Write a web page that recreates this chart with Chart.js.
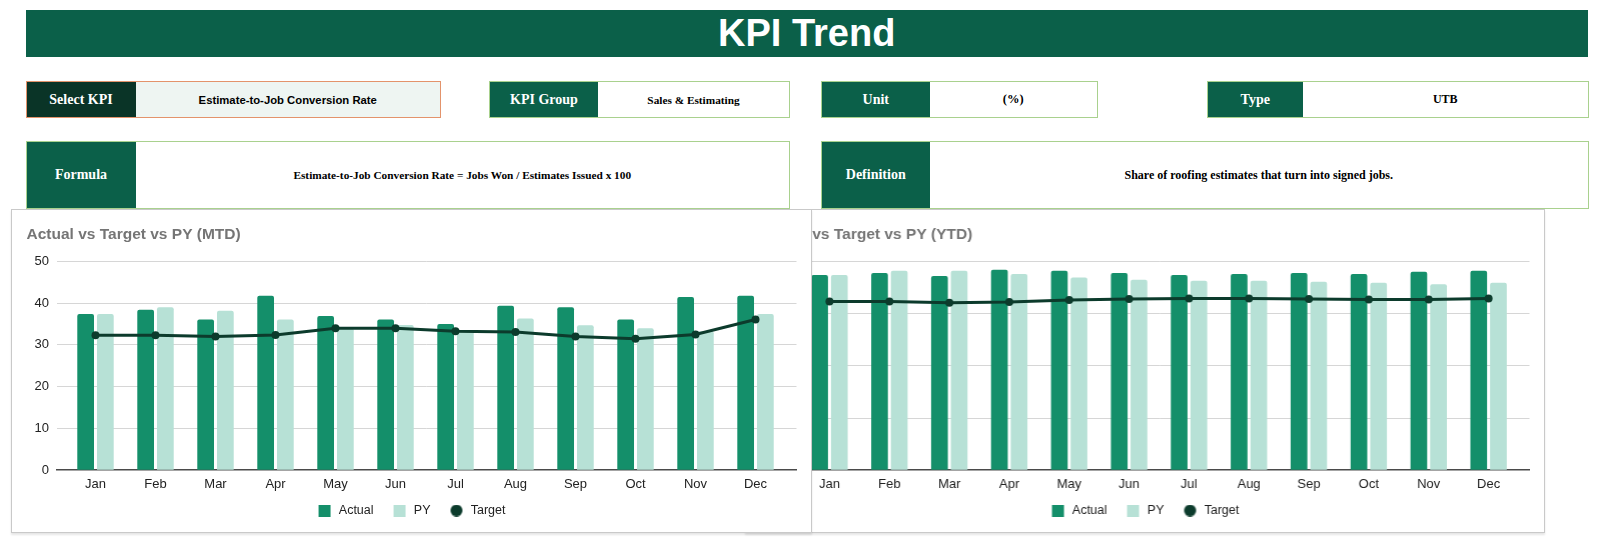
<!DOCTYPE html>
<html>
<head>
<meta charset="utf-8">
<script src="https://cdn.jsdelivr.net/npm/chart.js@4.4.1/dist/chart.umd.min.js"></script>
<style>
html,body{margin:0;padding:0;background:#fff;}
body{width:1600px;height:545px;position:relative;overflow:hidden;font-family:"Liberation Serif","Times New Roman",serif;}
.hdr{position:absolute;left:25.5px;top:10px;width:1562.5px;height:47px;background:#0b6049;color:#fff;font:bold 38px "Liberation Sans",Arial,sans-serif;display:flex;align-items:center;justify-content:center;}
.box{position:absolute;box-sizing:border-box;border:1.5px solid #a9d18e;display:flex;background:#fff;}
.lab{background:#0b6049;color:#fff;font-weight:bold;font-size:14px;display:flex;align-items:center;justify-content:center;flex:none;}
.val{flex:1;display:flex;align-items:center;justify-content:center;font-weight:bold;font-size:12px;color:#000;text-align:center;}
.card{position:absolute;top:209px;height:324px;box-sizing:border-box;border:1.5px solid #c9c9c9;background:#fff;box-shadow:0 2px 2px rgba(0,0,0,0.10);}
.card canvas{position:absolute;left:0;top:0;}
</style>
</head>
<body>
<div class="hdr">KPI Trend</div>

<div class="box" style="left:25.5px;top:81px;width:415.5px;height:37px;border-color:#e3936b;">
  <div class="lab" style="width:109px;background:#0a3427;">Select KPI</div>
  <div class="val" style="background:#eef5f2;font-family:'Liberation Sans',Arial,sans-serif;font-size:11.3px;">Estimate-to-Job Conversion Rate</div>
</div>
<div class="box" style="left:489px;top:81px;width:301px;height:37px;">
  <div class="lab" style="width:108px;">KPI Group</div>
  <div class="val" style="font-size:11.3px;">Sales &amp; Estimating</div>
</div>
<div class="box" style="left:821px;top:81px;width:277px;height:37px;">
  <div class="lab" style="width:107.5px;">Unit</div>
  <div class="val" style="font-size:12.5px;">(%)</div>
</div>
<div class="box" style="left:1207px;top:81px;width:382px;height:37px;">
  <div class="lab" style="width:94.5px;">Type</div>
  <div class="val" style="font-size:12px;">UTB</div>
</div>
<div class="box" style="left:25.5px;top:141px;width:764.5px;height:68px;">
  <div class="lab" style="width:109px;">Formula</div>
  <div class="val" style="font-size:11.3px;">Estimate-to-Job Conversion Rate = Jobs Won / Estimates Issued x 100</div>
</div>
<div class="box" style="left:821px;top:141px;width:768px;height:68px;">
  <div class="lab" style="width:107.5px;">Definition</div>
  <div class="val">Share of roofing estimates that turn into signed jobs.</div>
</div>

<div class="card" style="left:745px;width:799.5px;z-index:1;"><canvas id="ytd"></canvas></div>
<div class="card" style="left:11px;width:801px;z-index:2;"><canvas id="mtd"></canvas></div>

<script>
// ---- data ----
const months = ['Jan','Feb','Mar','Apr','May','Jun','Jul','Aug','Sep','Oct','Nov','Dec'];
const seriesNames = ['Actual','PY','Target'];

const mtdActual = [37.4, 38.4, 36.1, 41.8, 36.9, 36.1, 35.0, 39.4, 39.0, 36.1, 41.5, 41.8];
const mtdPY     = [37.4, 39.0, 38.2, 36.1, 34.0, 34.8, 33.5, 36.3, 34.7, 34.0, 33.3, 37.4];
const mtdTarget = [32.3, 32.3, 32.0, 32.4, 34.0, 34.0, 33.3, 33.1, 32.0, 31.5, 32.5, 36.1];

const ytdActual = [37.4, 37.8, 37.2, 38.4, 38.2, 37.8, 37.4, 37.6, 37.8, 37.6, 38.0, 38.2];
const ytdPY     = [37.4, 38.2, 38.2, 37.6, 36.9, 36.5, 36.3, 36.3, 36.1, 35.9, 35.6, 35.9];
const ytdTarget = [32.3, 32.3, 32.1, 32.2, 32.6, 32.8, 32.9, 32.9, 32.8, 32.7, 32.7, 32.9];

const mtdTicks = [0, 10, 20, 30, 40, 50];
const ytdTicks = [0, 10, 20, 30, 40];

// ---- style ----
const C_ACTUAL = '#148f6a', C_PY = '#b7e1d6', C_TARGET = '#0c3b2c';
Chart.defaults.font.family = '"Liberation Sans", Arial, sans-serif';
Chart.defaults.color = '#222';

function icon(color, round) {
  const c = document.createElement('canvas');
  c.width = 24; c.height = 12;
  const g = c.getContext('2d');
  g.fillStyle = color;
  if (round) { g.beginPath(); g.arc(16, 6, 6, 0, Math.PI * 2); g.fill(); }
  else g.fillRect(10, 0, 12, 12);
  return c;
}
const icons = [icon(C_ACTUAL, false), icon(C_PY, false), icon(C_TARGET, true)];

const legendShift = {
  id: 'legendShift',
  afterLayout(chart) { if (chart.legend) { chart.legend.left -= 4.5; chart.legend.right -= 4.5; } }
};

function pts(arr) { return arr.map((v, i) => ({x: i, y: v})); }

function makeChart(id, w, h, title, actual, py, target, ticks) {
  const cv = document.getElementById(id);
  cv.width = w; cv.height = h; cv.style.width = w + 'px'; cv.style.height = h + 'px';
  new Chart(cv, {
    type: 'bar',
    plugins: [legendShift],
    data: {
      datasets: [
        {label: seriesNames[0], data: pts(actual), backgroundColor: C_ACTUAL, order: 2,
         categoryPercentage: 0.657, barPercentage: 0.848, borderRadius: 2},
        {label: seriesNames[1], data: pts(py), backgroundColor: C_PY, order: 3,
         categoryPercentage: 0.657, barPercentage: 0.848, borderRadius: 2},
        {label: seriesNames[2], type: 'line', data: pts(target), order: 1,
         borderColor: C_TARGET, backgroundColor: C_TARGET, borderWidth: 3,
         pointRadius: 4, pointBackgroundColor: C_TARGET, pointBorderWidth: 0, tension: 0}
      ]
    },
    options: {
      responsive: false, animation: false, events: [],
      layout: {padding: {left: 14.5, right: 13.5, top: 0, bottom: 4.25}},
      scales: {
        x: {
          type: 'linear', offset: false, min: -0.65, max: months.length - 1 + 0.683,
          grid: {display: false, drawTicks: false},
          border: {display: true, color: '#4a4a4a', width: 1.5},
          afterBuildTicks: s => { s.ticks = months.map((m, i) => ({value: i})); },
          afterFit: s => { s.height = 24.05; },
          ticks: {autoSkip: false, maxRotation: 0, padding: 6.5, font: {size: 13}, color: '#222',
                  callback: v => months[v]}
        },
        y: {
          min: ticks[0], max: ticks[ticks.length - 1],
          afterBuildTicks: s => { s.ticks = ticks.map(v => ({value: v})); },
          afterFit: s => { s.width = 30; },
          grid: {drawTicks: false, color: c => (c.tick && c.tick.value === 0) ? 'rgba(0,0,0,0)' : '#d6d6d6', lineWidth: 1},
          border: {display: false},
          ticks: {padding: 7.5, font: {size: 13}, color: '#222'}
        }
      },
      plugins: {
        title: {display: true, text: title, align: 'start', color: '#757575',
                font: {size: 15.5, weight: 'bold'}, padding: {top: 15.1, bottom: 17.7}},
        legend: {
          position: 'bottom',
          labels: {
            usePointStyle: true, pointStyleWidth: 24, boxWidth: 12, boxHeight: 12, padding: 10,
            font: {size: 12.5}, color: '#222',
            generateLabels: chart => {
              const items = Chart.defaults.plugins.legend.labels.generateLabels(chart);
              items.sort((a, b) => a.datasetIndex - b.datasetIndex);
              items.forEach(it => { it.pointStyle = icons[it.datasetIndex]; it.lineWidth = 0; });
              return items;
            }
          }
        },
        tooltip: {enabled: false}
      }
    }
  });
}

makeChart('mtd', 798, 321, 'Actual vs Target vs PY (MTD)', mtdActual, mtdPY, mtdTarget, mtdTicks);
makeChart('ytd', 796.5, 321, 'Actual vs Target vs PY (YTD)', ytdActual, ytdPY, ytdTarget, ytdTicks);
</script>
</body>
</html>
